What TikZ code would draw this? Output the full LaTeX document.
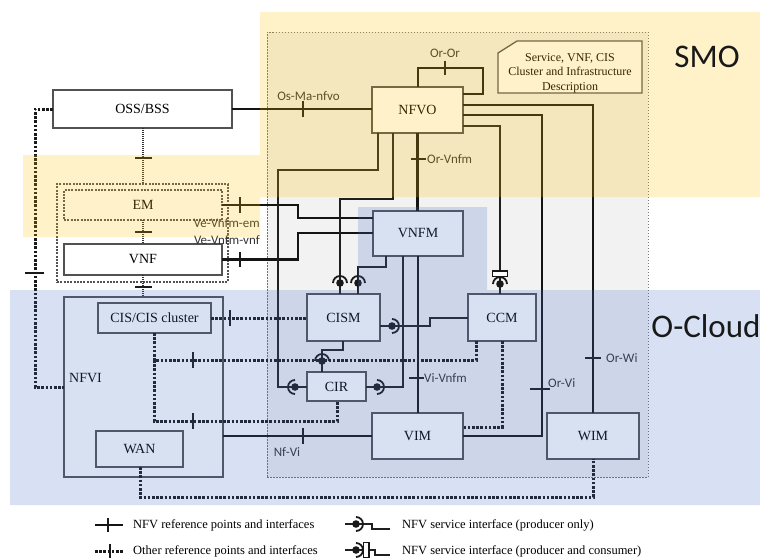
\documentclass[tikz,border=0pt]{standalone}
\usepackage{fontspec}
\setmainfont{Liberation Serif}
\newfontfamily\calfont{Carlito}
\usetikzlibrary{calc}
\definecolor{smoY}{HTML}{FFC000}
\definecolor{ocB}{HTML}{4472C4}
\begin{document}
\begin{tikzpicture}[x=1pt,y=-1pt,
  box/.style={draw=black!68, line width=1.3pt, fill=white, inner sep=0pt, outer sep=0pt, font=\fontsize{14}{16}\selectfont},
  dbox/.style={box, dash pattern=on 2pt off 1.3pt},
  ref/.style={line width=2.4pt, draw=black!92},
  svc/.style={line width=1.4pt, draw=black!88},
  otherref/.style={draw=black!90, line width=3pt, dash pattern=on 2.6pt off 1.6pt},
  thindot/.style={line width=1.1pt, dash pattern=on 1pt off 1pt, draw=black!80},
  tk/.style={line width=1.5pt, draw=black!90},
  lbl/.style={font=\calfont\fontsize{13}{15}\selectfont, text=black!80, inner sep=0pt},
  leg/.style={font=\fontsize{12.5}{14}\selectfont, inner sep=0pt, anchor=west},
  prod/.pic={\fill[black!90] (0,0) circle (3.8pt);
             \draw[line width=1.8pt, black!90] (0,7) arc[start angle=-90, end angle=90, radius=7pt];},
  prodcons/.pic={\fill[black!90] (0,0) circle (3.8pt);
             \draw[line width=1.8pt, black!90] (0,7) arc[start angle=-90, end angle=90, radius=7pt];
             \filldraw[fill=white, draw=black!90, line width=1.1pt] (7.5,-7.5) rectangle (13,7.5);},
]
\useasboundingbox (0,0) rectangle (760,558);

% NFV-MANO dashed area
\node[draw=black!55, line width=0.8pt, dash pattern=on 1.5pt off 1.5pt, fill=black!5,
      minimum width=381pt, minimum height=445pt, inner sep=0pt] (mano) at (457.5,254.5) {};

% boxes
\node[box, minimum width=179pt, minimum height=38pt] (oss) at (142.5,109) {OSS/BSS};
\node[box, minimum width=91pt, minimum height=46pt] (nfvo) at (417.5,110) {NFVO};
\draw[draw=black!68, line width=1.3pt, fill=white] (517,41) -- (642,41) -- (642,93) -- (498,93) -- (498,53) -- cycle;
\node[align=center, font=\fontsize{12}{14.5}\selectfont, inner sep=0pt] (desc) at (570,73)
  {Service, VNF, CIS\\Cluster and Infrastructure\\Description};
\node[dbox, fill=white, minimum width=171pt, minimum height=98pt] (emo) at (142.5,233) {};
\node[dbox, minimum width=158pt, minimum height=30pt] (em) at (143,205) {EM};
\node[box, minimum width=158pt, minimum height=31pt] (vnf) at (143,259.5) {VNF};
\node[box, minimum width=159pt, minimum height=180pt] (nfvi) at (143.5,387) {};
\node[anchor=west, inner sep=0pt, font=\fontsize{14}{16}\selectfont] (nfvil) at (69,378) {NFVI};
\node[box, minimum width=113pt, minimum height=30pt] (cis) at (154.5,318) {CIS/CIS cluster};
\node[box, minimum width=87pt, minimum height=36pt] (wan) at (139.5,449) {WAN};
\node[box, minimum width=90pt, minimum height=45pt] (vnfm) at (418,233.5) {VNFM};
\node[box, minimum width=73pt, minimum height=47pt] (cism) at (343.5,317.5) {CISM};
\node[box, minimum width=68pt, minimum height=47pt] (ccm) at (502,317.5) {CCM};
\node[box, minimum width=59pt, minimum height=29pt] (cir) at (336.5,386.5) {CIR};
\node[box, minimum width=91pt, minimum height=46pt] (vim) at (417.5,436) {VIM};
\node[box, minimum width=92pt, minimum height=46pt] (wim) at (593,436) {WIM};

% NFV reference points (solid)
\draw[ref] (oss.east) -- (oss.east -| nfvo.west);
\draw[tk] (303,101) -- (303,117);
\node[lbl] (lOsMa) at (308.5,96) {Os-Ma-nfvo};

\draw[ref] (418,0 |- nfvo.north) -- (418,68) -- (483,68) -- (483,94) -- (nfvo.east |- 0,94);
\draw[tk] (445,61) -- (445,75);
\node[lbl] (lOrOr) at (445,53) {Or-Or};

\draw[ref] (nfvo.east |- 0,105) -- (593,105) -- (wim.north);
\draw[tk] (585,358) -- (601,358);
\node[lbl, anchor=west] (lOrWi) at (606,358) {Or-Wi};

\draw[ref] (nfvo.east |- 0,115) -- (542,115) -- (542,436) -- (vim.east);
\draw[tk] (530,389) -- (550,389);
\node[lbl, anchor=west] (lOrVi) at (548,383) {Or-Vi};

\draw[ref] (nfvo.south) -- (nfvo.south |- vnfm.north);
\draw[tk] (411,159) -- (426,159);
\node[lbl, anchor=west] (lOrVnfm) at (427,159) {Or-Vnfm};

\draw[ref] (vnfm.south) -- (vnfm.south |- vim.north);
\draw[tk] (409,378) -- (424,378);
\node[lbl, anchor=west] (lViVnfm) at (424,378) {Vi-Vnfm};

\draw[ref] (nfvi.east |- vim.west) -- (vim.west);
\draw[tk] (303,428) -- (303,444);
\node[lbl] (lNfVi) at (287,452) {Nf-Vi};

\draw[ref] (em.east) -- (298,205) -- (298,218) -- (vnfm.west |- 0,218);
\draw[tk] (240,197) -- (240,213);
\draw[ref] (vnf.east) -- (298,259.5) -- (298,233) -- (vnfm.west |- 0,233);
\draw[tk] (240,252) -- (240,267);
\node[lbl, anchor=east] (lVe1) at (260,223) {Ve-Vnfm-em};
\node[lbl, anchor=east] (lVe2) at (260,240) {Ve-Vnfm-vnf};

% NFV service interfaces
\draw[svc] (378,0 |- nfvo.south) -- (378,170) -- (278,170) -- (278,387) -- (cir.west |- 0,387);
\draw[svc] (393,0 |- nfvo.south) -- (393,199) -- (340,199) -- (340,0 |- cism.north);
\draw[svc] (386,0 |- vnfm.south) -- (386,267) -- (358,267) -- (358,0 |- cism.north);
\draw[svc] (nfvo.east |- 0,126) -- (500,126) -- (500,0 |- ccm.north);
\draw[svc] (403,0 |- vnfm.south) -- (403,387) -- (cir.east |- 0,387);
\draw[svc] (cism.east |- 0,326) -- (430,326) -- (430,318) -- (ccm.west |- 0,318);
\draw[svc] (343,0 |- cism.south) -- (343,350) -- (322,350) -- (322,0 |- cir.north);
\pic[rotate=180] at (295,387) {prod};
\pic[rotate=90] at (340,283) {prod};
\pic[rotate=90] at (358,283) {prod};
\pic[rotate=90] at (500,284) {prodcons};
\pic at (377,387) {prod};
\pic at (392,326) {prod};
\pic[rotate=90] at (322,361) {prod};

% other reference points (dotted)
\draw[otherref] (cis.east) -- (cis.east -| cism.west);
\draw[tk] (230,310) -- (230,326);
\draw[otherref] (154,0 |- cis.south) -- (154,360) -- (476,360) -- (476,0 |- ccm.south);
\draw[tk] (193,352) -- (193,368);
\draw[otherref] (154,360) -- (154,421) -- (337,421) -- (337,0 |- cir.south);
\draw[tk] (193,413) -- (193,429);
\draw[otherref] (502,0 |- ccm.south) -- (502,427) -- (vim.east |- 0,427);
\draw[otherref] (140,0 |- wan.south) -- (140,497) -- (593,497) -- (wim.south);
\draw[otherref] (oss.west) -- (35,109) -- (35,387) -- (nfvi.west |- 0,387);
\draw[tk] (25,273) -- (44,273);

\draw[thindot] (143,0 |- oss.south) -- (143,0 |- emo.north);
\draw[tk] (135,158) -- (152,158);
\draw[thindot] (em.south) -- (vnf.north);
\draw[tk] (135,232) -- (152,232);
\draw[thindot] (vnf.south) -- (143,0 |- nfvi.north);
\draw[tk] (135,287) -- (152,287);

% overlays
\fill[smoY, opacity=0.21] (260,12) -- (760,12) -- (760,197) -- (260,197) -- (260,237) -- (23,237) -- (23,155) -- (260,155) -- cycle;
\fill[ocB, opacity=0.21] (10,290) -- (358,290) -- (358,207) -- (487,207) -- (487,290) -- (760,290) -- (760,505) -- (10,505) -- cycle;

\node[font=\calfont\fontsize{33}{36}\selectfont, text=black!90, inner sep=0pt] (smo) at (707,57) {SMO};
\node[font=\calfont\fontsize{33}{36}\selectfont, text=black!90, inner sep=0pt] (ocloud) at (706,326) {O-Cloud};

% legend
\draw[ref] (95,525) -- (123,525);
\draw[tk] (108,518) -- (108,532);
\node[leg] (leg1) at (133,525) {NFV reference points and interfaces};
\draw[otherref] (95,551) -- (123,551);
\draw[tk] (110,544) -- (110,558);
\node[leg] (leg2) at (133,551) {Other reference points and interfaces};
\draw[svc] (345,524) -- (372,524) -- (372,529) -- (390,529);
\pic at (356,524) {prod};
\node[leg] (leg3) at (402,525) {NFV service interface (producer only)};
\draw[svc] (345,550) -- (375,550) -- (375,555) -- (390,555);
\pic at (356,550) {prodcons};
\node[leg] (leg4) at (402,551) {NFV service interface (producer and consumer)};
\end{tikzpicture}
\end{document}
